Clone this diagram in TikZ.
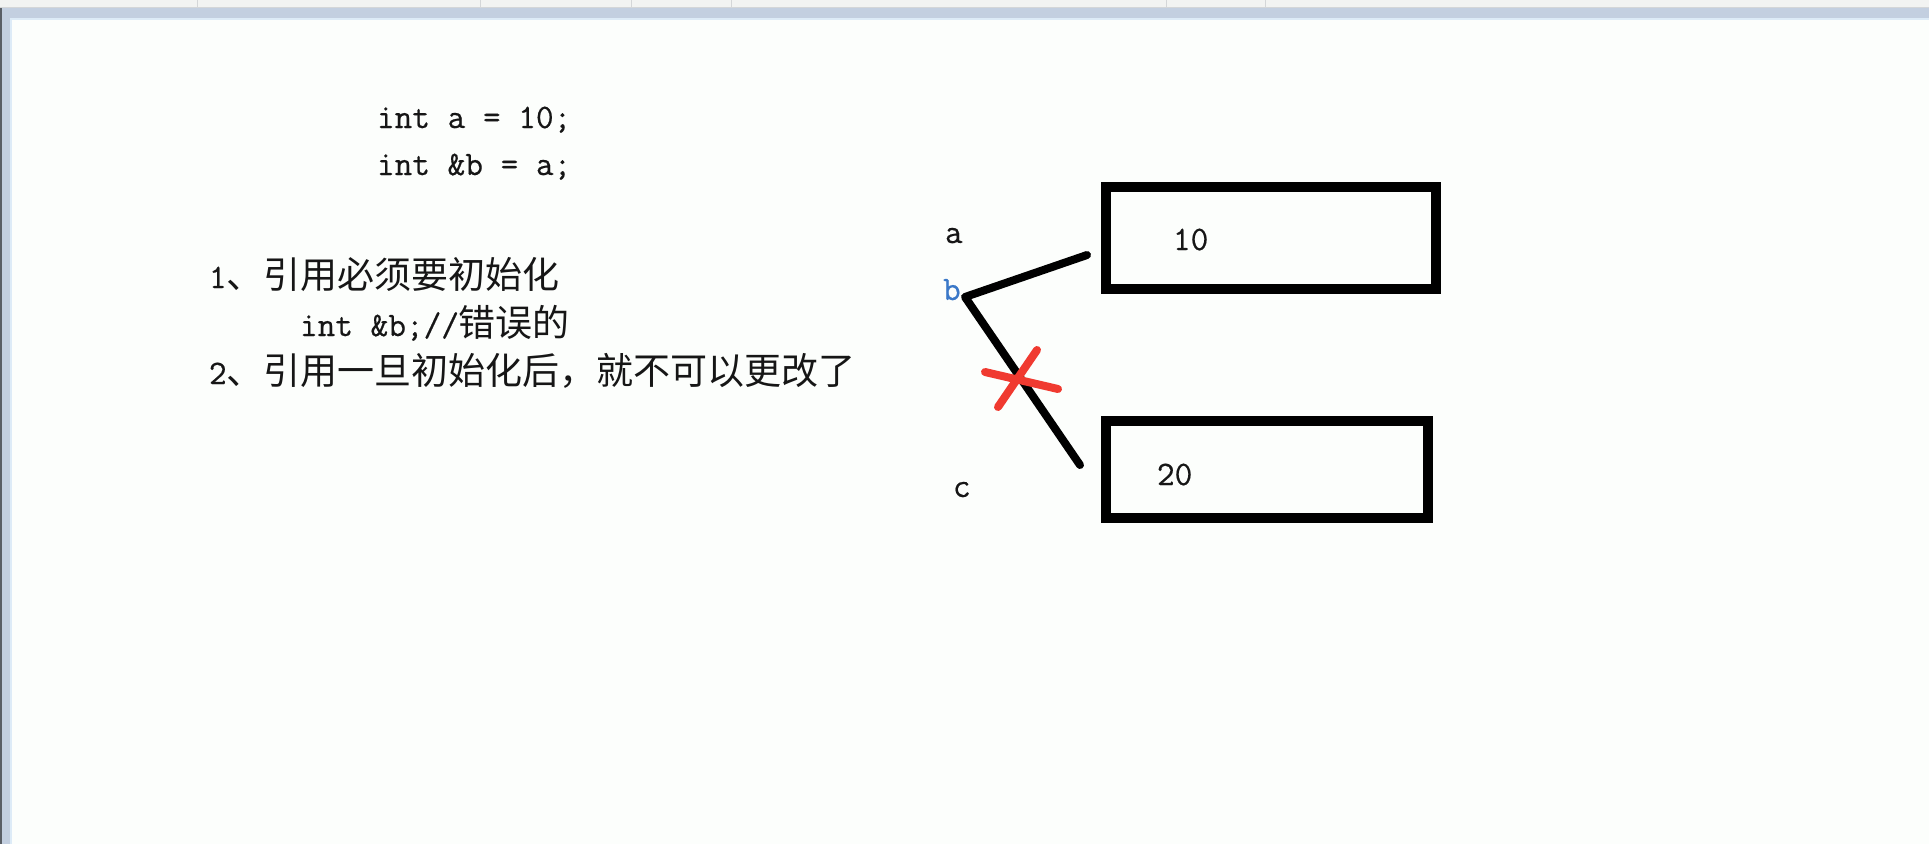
\documentclass[tikz,border=0pt]{standalone}
\usepackage{fontspec}
\newfontfamily\cjk{Noto Sans CJK SC}
\newfontfamily\codefont{Latin Modern Mono}[FakeBold=0.5]
\definecolor{pagebg}{HTML}{FCFEFC}
\definecolor{topgrey}{HTML}{F2F3F2}
\definecolor{tickgrey}{HTML}{D4D6D8}
\definecolor{framegrey}{HTML}{C3CFE0}
\definecolor{framedark}{HTML}{5A5F66}
\definecolor{framelight}{HTML}{DDEBF7}
\definecolor{textcol}{HTML}{161616}
\definecolor{bblue}{HTML}{3A78C8}
\definecolor{crossred}{HTML}{F03A30}
\begin{document}
\begin{tikzpicture}[x=1pt,y=-1pt,
  txt/.style={inner sep=0pt, outer sep=0pt, anchor=base west, text=textcol,
    font=\fontsize{34.3}{40}\selectfont\codefont},
  membox/.style={draw=black, line width=10pt, inner sep=0pt, outer sep=0pt},
  refline/.style={draw=black, line width=8pt, line cap=round, line join=round},
  cross/.style={draw=crossred, line width=8pt, line cap=round},
  tick/.style={draw=tickgrey, line width=1pt}]
\useasboundingbox (0,0) rectangle (1929,844);
% window background
\fill[pagebg] (0,0) rectangle (1929,844);
\fill[topgrey] (0,0) rectangle (1929,7.5);
\foreach \tx in {197,480,631,731,1166,1265} \draw[tick] (\tx,0) -- (\tx,6.5);
\fill[framegrey] (0,7.5) rectangle (1929,18);
\draw[tickgrey, line width=1pt] (0,7.8) -- (1929,7.8);
\fill[framelight] (10,18) rectangle (1929,19.5);
\fill[framegrey] (0,7.5) rectangle (10,844);
\fill[framedark] (0,8) rectangle (1.8,844);
\fill[framelight] (10,18) rectangle (11.5,844);
% code
\node[txt] (code1) at (377,128) {int a = 10;};
\node[txt] (code2) at (377,175) {int \&b = a;};
% notes
\node[txt] (note1) at (209,288) {1{\fontsize{37}{40}\cjk 、引用必须要初始化}};
\node[txt] (note2) at (300,336) {int \&b;//{\fontsize{37}{40}\cjk 错误的}};
\node[txt] (note3) at (209,384) {2{\fontsize{37}{40}\cjk 、引用一旦初始化后，就不可以更改了}};
% memory boxes
\node[membox, minimum width=330pt, minimum height=102pt] (box1) at (1271,238) {};
\node[membox, minimum width=322pt, minimum height=97pt] (box2) at (1267,469.5) {};
\node[txt] (v10) at (1173,250) {10};
\node[txt] (v20) at (1157,485) {20};
% variable names
\node[txt] (la) at (945,243) {a};
\node[txt, text=bblue] (lb) at (943,300) {b};
\node[txt] (lc) at (953,497) {c};
% reference lines
\coordinate (bv) at (965,297);
\coordinate (e1) at (1087,255);
\coordinate (e2) at (1080,465);
\draw[refline] (e1) -- (bv) -- (e2);
% red cross
\coordinate (x1a) at (985,372);
\coordinate (x1b) at (1058,389);
\coordinate (x2a) at (1037,350);
\coordinate (x2b) at (998,407);
\draw[cross] (x1a) -- (x1b);
\draw[cross] (x2a) -- (x2b);
\end{tikzpicture}
\end{document}
